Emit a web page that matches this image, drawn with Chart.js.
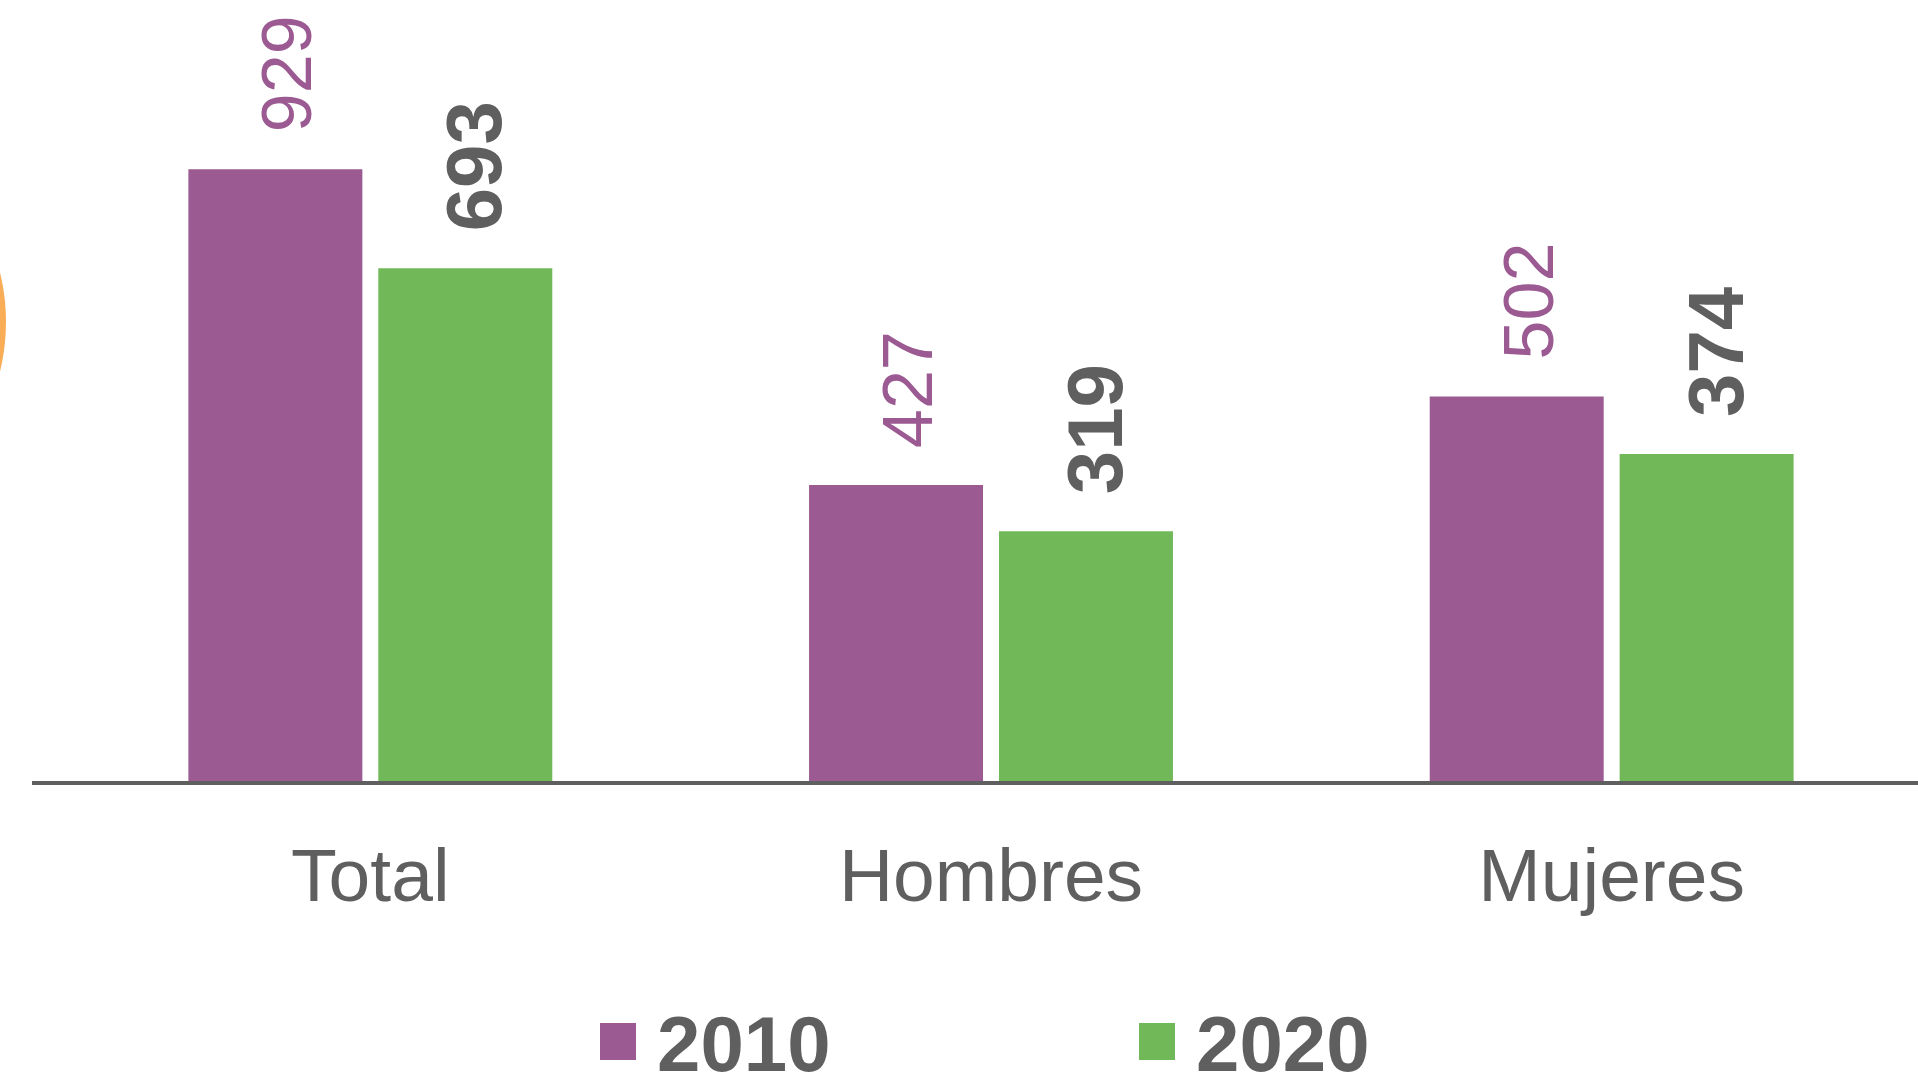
<!DOCTYPE html>
<html>
<head>
<meta charset="utf-8">
<title>Total, Hombres, Mujeres 2010 - 2020</title>
<script src="https://cdn.jsdelivr.net/npm/chart.js@4/dist/chart.umd.min.js"></script>
<style>
  html, body { margin: 0; padding: 0; background: #fff; overflow: hidden; }
  #wrap { position: absolute; left: 0; top: 0; width: 1922px; height: 1076px; }
</style>
</head>
<body>
<div id="wrap"><canvas id="barChart" width="1922" height="1076"></canvas></div>
<script>
// categories and series
const categories = ['Total', 'Hombres', 'Mujeres'];
const seriesNames = ['2010', '2020'];
// bar lengths as drawn (scaled so the Total 2010 bar = 929)
const bars2010 = [929, 451, 585];
const bars2020 = [779, 381, 498];
// the numbers printed over the bars
const labels2010 = ['929', '427', '502'];
const labels2020 = ['693', '319', '374'];

const purple = '#9b5a91';
const green = '#70b858';
const grey = '#5f5f5f';
const fontFamily = '"Liberation Sans", Arial, Helvetica, sans-serif';

// rotated value labels above each bar
const valueLabels = {
    id: 'valueLabels',
    afterDatasetsDraw(chart) {
        const ctx = chart.ctx;
        const styles = [
            { text: labels2010, font: 'normal 70px ' + fontFamily, color: purple },
            { text: labels2020, font: 'bold 78px ' + fontFamily, color: grey }
        ];
        chart.data.datasets.forEach((ds, i) => {
            const meta = chart.getDatasetMeta(i);
            meta.data.forEach((bar, j) => {
                ctx.save();
                ctx.translate(bar.x + 36, bar.y - 37);
                ctx.rotate(-Math.PI / 2);
                ctx.font = styles[i].font;
                ctx.fillStyle = styles[i].color;
                ctx.textAlign = 'left';
                ctx.textBaseline = 'alphabetic';
                ctx.fillText(styles[i].text[j], 0, 0);
                ctx.restore();
            });
        });
    }
};

// baseline running across the whole width, plus the orange arc on the left edge
const decorations = {
    id: 'decorations',
    beforeDraw(chart) {
        const ctx = chart.ctx;
        ctx.save();
        ctx.fillStyle = '#f9ad57';
        ctx.beginPath();
        ctx.arc(-202, 322, 208, 0, Math.PI * 2);
        ctx.fill();
        ctx.restore();
    },
    afterDatasetsDraw(chart) {
        const ctx = chart.ctx;
        const y = chart.scales.y.getPixelForValue(0);
        ctx.save();
        ctx.strokeStyle = grey;
        ctx.lineWidth = 4;
        ctx.beginPath();
        ctx.moveTo(32, y);
        ctx.lineTo(chart.width, y);
        ctx.stroke();
        ctx.restore();
    }
};

// legend drawn under the axis
const bottomLegend = {
    id: 'bottomLegend',
    afterDraw(chart) {
        const ctx = chart.ctx;
        const xs = [600, 1139];
        ctx.save();
        ctx.font = 'bold 78px ' + fontFamily;
        ctx.textBaseline = 'alphabetic';
        ctx.textAlign = 'left';
        chart.data.datasets.forEach((ds, i) => {
            ctx.fillStyle = ds.backgroundColor;
            ctx.fillRect(xs[i], 1023, 36, 37);
            ctx.fillStyle = grey;
            ctx.fillText(ds.label, xs[i] + 57, 1071);
        });
        ctx.restore();
    }
};

const data = {
    labels: categories,
    datasets: [
        { label: seriesNames[0], data: bars2010, backgroundColor: purple },
        { label: seriesNames[1], data: bars2020, backgroundColor: green }
    ]
};

const config = {
    type: 'bar',
    data: data,
    options: {
        responsive: false,
        animation: false,
        devicePixelRatio: 1,
        layout: { padding: { left: 60, right: 0, top: 0, bottom: 107 } },
        datasets: {
            bar: { categoryPercentage: 0.612, barPercentage: 0.916 }
        },
        scales: {
            x: {
                grid: { display: false },
                border: { display: false },
                ticks: {
                    color: grey,
                    padding: 44,
                    font: { family: fontFamily, size: 75 }
                }
            },
            y: {
                display: false,
                min: 0,
                max: 1185
            }
        },
        plugins: {
            legend: { display: false },
            tooltip: { enabled: false }
        }
    },
    plugins: [decorations, valueLabels, bottomLegend]
};

const barChart = new Chart(document.getElementById('barChart'), config);
</script>
</body>
</html>
